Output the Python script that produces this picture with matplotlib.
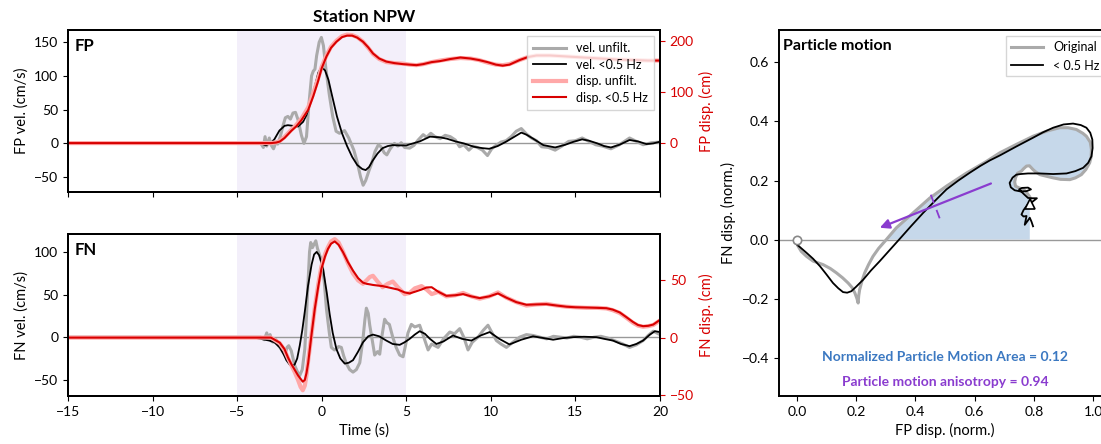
import numpy as np
import matplotlib
matplotlib.use("Agg")
import matplotlib.pyplot as plt

plt.rcParams['font.family'] = ['Lato', 'DejaVu Sans']
plt.rcParams['font.size'] = 10
plt.rcParams['axes.linewidth'] = 1.4

# ---- FP component ----
t_fp_vel_f = [-15, -5, -4, -3.6, -3.3, -3.0, -2.8, -2.5, -2.2, -2.0, -1.7, -1.4, -1.1, -0.9, -0.6, -0.4, -0.2, 0.0,
              0.2, 0.4, 0.6, 0.9, 1.2, 1.5, 1.8, 2.1, 2.4, 2.6, 2.8, 3.0, 3.3, 3.6, 3.9, 4.2, 4.6, 5.0, 5.4, 5.8,
              6.4, 7.0, 7.4, 7.9, 8.4, 9.0, 9.5, 9.9, 10.4, 10.9, 11.4, 11.8, 12.1, 12.5, 13.1, 13.8, 14.4, 14.9,
              15.4, 15.8, 16.3, 16.7, 17.1, 17.6, 18.2, 18.7, 19.2, 19.6, 20]
fp_vel_f = [0, 0, 0.5, 0, -3, 1, 6, 19, 26, 27, 26, 25, 32, 42, 65, 85, 105, 113,
            108, 94, 72, 40, 15, -4, -20, -32, -38, -39.5, -35, -26, -15, -7, -4, -2.5, -3, -3, 0, 3,
            10, 9, 7, 3, 0, -5, -7, -8, -4, 2.5, 10, 16, 13, 7, -2.5, -6, -2, 2.5,
            6, 4, 0, -4, -6, -2, 5, 3, -1, 0, 2.5]

t_fp_vel_u = [-15, -5, -3.6, -3.45, -3.35, -3.25, -3.1, -3.0, -2.85, -2.7, -2.6, -2.45, -2.3, -2.15, -2.0, -1.85,
              -1.7, -1.55, -1.4, -1.2, -1.05, -0.9, -0.75, -0.6, -0.5, -0.4, -0.3, -0.15, -0.02, 0.1, 0.25, 0.45,
              0.65, 0.85, 1.05, 1.35, 1.6, 1.9, 2.1, 2.3, 2.45, 2.6, 2.8, 2.95, 3.15, 3.35, 3.5, 3.7, 3.85, 4.05,
              4.3, 4.5, 4.7, 4.9, 5.2, 5.45, 5.7, 6.0, 6.2, 6.45, 6.7, 7.0, 7.3, 7.6, 7.9, 8.15, 8.4, 8.7, 8.95,
              9.2, 9.5, 9.8, 10.05, 10.3, 10.6, 10.9, 11.2, 11.5, 11.8, 12.1, 12.4, 12.7, 13.0, 13.4, 13.8, 14.2,
              14.6, 15.0, 15.4, 15.8, 16.2, 16.6, 17.1, 17.6, 18.2, 18.6, 19.0, 19.5, 20]
fp_vel_u = [0, 0, 0, -6, 10, -4, 8, -2, -8, 2, -1, 10, 25, 38, 40, 36,
            45, 46, 35, 12, 0, 10, 60, 100, 107, 110, 130, 150, 157, 145, 110, 72,
            40, 18, 15, 19, 8, -10, -28, -50, -62, -55, -40, -30, -12, -2, -5, -14, -17, -8,
            0, -4, 1, -6, -7, -3, 5, 13, 9, 15, 10, 7, 12, 10, 5, -5, -2, -10, -4,
            -6, -10, -18, -8, -3, 2, 4, 10, 18, 22, 14, 8, 4, -5, -6, -10, -4,
            3, 4, 8, 3, -2, -4, -8, -2, 8, 3, -2, 1, 2]

t_fp_disp = [-15, -5, -3, -2.7, -2.48, -2.2, -2.0, -1.8, -1.5, -1.2, -0.8, -0.5, -0.22, 0.0, 0.28, 0.55, 0.87,
             1.2, 1.5, 1.8, 2.1, 2.44, 2.75, 3.03, 3.4, 3.82, 4.3, 4.8, 5.2, 5.6, 6.0, 6.5, 7.0, 7.6, 8.2, 8.8,
             9.3, 9.8, 10.3, 10.7, 11.1, 11.7, 12.2, 12.7, 13.5, 14.5, 15.5, 16.5, 17.5, 18.5, 19.3, 20]
fp_disp_f = [0, 0, 0, 1, 3, 10, 17, 24, 33, 45, 65, 92, 121, 147, 170, 187, 199,
             208, 211, 211, 207, 199, 188, 176, 166, 160, 157, 155, 154, 153, 155, 159, 161, 165, 168, 166,
             163, 159, 154, 152, 154, 163, 169, 172, 172, 170, 168, 166, 164, 163, 162, 162]
fp_disp_u = [0, 0, 0, 1.5, 4, 12, 19, 26, 36, 48, 70, 98, 126, 150, 172, 189, 201,
             210, 213, 212, 208, 199, 187, 175, 165, 159, 157, 156, 154, 153, 155, 159, 162, 165, 167, 166,
             163, 158, 154, 153, 155, 163, 169, 172, 172, 170, 168, 166, 164, 163, 162, 162]

# ---- FN component ----
t_fn_vel_f = [-15, -5, -4, -3.6, -3.1, -2.8, -2.48, -2.25, -2.09, -1.9, -1.75, -1.6, -1.45, -1.3, -1.15, -1.0,
              -0.81, -0.6, -0.45, -0.3, -0.15, 0.08, 0.3, 0.47, 0.65, 0.87, 1.1, 1.36, 1.6, 1.85, 2.15, 2.44,
              2.75, 3.03, 3.4, 3.82, 4.2, 4.61, 4.9, 5.2, 5.5, 5.79, 6.1, 6.4, 6.78, 7.2, 7.76, 8.3, 8.85, 9.4,
              9.93, 10.5, 11.1, 11.8, 12.49, 13.1, 13.68, 14.3, 14.86, 15.5, 16.24, 16.7, 17.22, 17.7, 18.2,
              18.6, 19.0, 19.4, 19.7, 20]
fn_vel_f = [0, 0, -0.5, -2, -4, -6, -12, -20, -27, -32, -34, -32, -25, -10, 8, 30,
            60, 85, 97, 100, 96, 80, 52, 27, 5, -14, -25, -31, -30, -27, -17, -6,
            1, 3, 1, -4, -8, -9, -6, -2, 3, 7, 4, -2, -8, -5, 2, -2, -4, 2,
            6, -2, -8.5, -3, 1, -1, -3, -1, 0, 0.5, 0, -2, -4, -8, -10.5,
            -8, -4, 3, 7, 6]

t_fn_vel_u = [-15, -5, -3.6, -3.4, -3.25, -3.15, -3.05, -2.95, -2.85, -2.7, -2.55, -2.4, -2.19, -2.05, -1.95,
              -1.8, -1.6, -1.45, -1.3, -1.15, -1.0, -0.9, -0.81, -0.72, -0.65, -0.55, -0.45, -0.35, -0.25,
              -0.1, -0.02, 0.15, 0.28, 0.45, 0.57, 0.75, 0.87, 1.0, 1.16, 1.3, 1.46, 1.65, 1.85, 2.05, 2.25,
              2.44, 2.55, 2.64, 2.75, 2.84, 3.0, 3.13, 3.3, 3.43, 3.55, 3.72, 3.85, 4.0, 4.2, 4.4, 4.61, 4.81,
              4.95, 5.1, 5.3, 5.5, 5.79, 6.0, 6.29, 6.5, 6.88, 7.2, 7.57, 7.85, 8.16, 8.4, 8.65, 8.9, 9.24,
              9.55, 9.83, 10.1, 10.33, 10.6, 10.92, 11.3, 11.7, 12.1, 12.5, 12.9, 13.3, 13.7, 14.1, 14.5,
              14.9, 15.3, 15.7, 16.1, 16.5, 16.9, 17.3, 17.8, 18.2, 18.6, 19.0, 19.3, 19.6, 19.8, 20]
fn_vel_u = [0, 0, 0, -3, 5, -2, 3, -5, -6, -3, -10, -14, -21, -12, -10,
            -16, -33, -40, -45, -38, -14, 25, 64, 100, 111, 105, 109, 113, 104,
            95, 92, 65, 33, 5, -12, -15, -14, -11, -12, -22, -31, -38, -41, -38, -30,
            -2, 20, 34, 28, 14, -5, -21, -17, -20, 0, 21, 17, 15, 0, -12, -21, -23,
            -10, 5, 15, 12, 14, 2, -15, -8, -12, -2, 6, 4, 10, 0, -15, -6, 0,
            8, 14, 4, -4, -8, -12, -6, 0, 3, 2, 0, -2, 1, 0, -1,
            1, 0, -2, 0, 1, -1, -4, -8, -12, -9, -4, 2, 7, 5, 3]

t_fn_disp = [-15, -5, -3, -2.48, -2.2, -1.99, -1.8, -1.6, -1.4, -1.25, -1.12, -1.0, -0.9, -0.8, -0.6, -0.41,
             -0.2, -0.02, 0.2, 0.37, 0.55, 0.77, 1.0, 1.26, 1.55, 1.85, 2.15, 2.44, 2.65, 2.85, 3.03, 3.3, 3.6,
             3.9, 4.2, 4.5, 4.9, 5.2, 5.5, 5.9, 6.2, 6.5, 6.9, 7.37, 7.9, 8.36, 8.85, 9.34, 9.9, 10.42, 10.9,
             11.5, 12.1, 12.7, 13.28, 13.9, 14.47, 15.0, 15.65, 16.3, 16.83, 17.2, 17.62, 18.0, 18.4, 18.7,
             19.0, 19.3, 19.6, 20]
fn_disp_f = [0, 0, 0, -4.4, -10, -17.5, -23, -28, -33, -36, -38.5, -37, -31, -22, 3, 25,
             45, 60, 71, 77.5, 82, 84, 81, 74.6, 66, 58.5, 52, 48, 47, 46.5, 46, 45.5, 45,
             44, 43, 42, 39.5, 38.6, 40, 42, 43.8, 44, 40, 36.5, 37, 38, 36, 34.5, 36, 38.6, 35,
             31, 28.7, 29, 29.2, 28, 27, 26.5, 26.3, 26, 25.7, 24.5, 22, 18, 13.7, 11,
             10, 10.3, 11.4, 15.5]
fn_disp_u = [0, 0, 0, -5, -11, -18, -24, -30, -37, -43, -46, -42, -33, -20, 3, 26,
             47, 62, 73, 79, 84, 86, 83, 75, 65, 56, 50, 47, 50, 53, 54, 49, 44,
             47, 49, 44, 38, 39, 43, 45, 42, 38, 40, 36, 37, 39, 36, 34, 36, 39.5, 35,
             31, 28, 29, 29.5, 28, 27, 26.5, 26, 26, 25.5, 24, 21.5, 17.5, 13, 10.5,
             9.5, 10, 11, 15]

# ---- particle motion (normalised displacement) ----
pm_orig_x = [0, 0.003, 0.015, 0.033, 0.055, 0.089, 0.113, 0.134, 0.155, 0.173, 0.187, 0.196, 0.203, 0.207,
             0.209, 0.212, 0.22, 0.229, 0.242, 0.257, 0.276, 0.297, 0.336, 0.392, 0.449, 0.505, 0.572, 0.64,
             0.685, 0.74, 0.797, 0.845, 0.887, 0.915, 0.943, 0.965, 0.977, 0.99, 0.994, 0.993, 0.988, 0.975,
             0.96, 0.94, 0.921, 0.89, 0.865, 0.84, 0.82, 0.805, 0.797, 0.785, 0.775, 0.765, 0.758, 0.745,
             0.738, 0.735, 0.738, 0.75, 0.765, 0.775, 0.786, 0.79, 0.786]
pm_orig_y = [0, -0.02, -0.04, -0.057, -0.073, -0.085, -0.098, -0.113, -0.13, -0.147, -0.163, -0.181, -0.2,
             -0.215, -0.19, -0.17, -0.14, -0.113, -0.085, -0.057, -0.03, -0.006, 0.04, 0.09, 0.141, 0.181,
             0.225, 0.265, 0.294, 0.322, 0.35, 0.368, 0.379, 0.379, 0.373, 0.36, 0.35, 0.33, 0.305, 0.28,
             0.26, 0.237, 0.22, 0.209, 0.203, 0.204, 0.209, 0.215, 0.22, 0.23, 0.237, 0.25, 0.249, 0.24,
             0.232, 0.225, 0.21, 0.195, 0.181, 0.175, 0.17, 0.16, 0.145, 0.13, 0.119]

pm_filt_x = [-0.007, 0.01, 0.033, 0.055, 0.078, 0.1, 0.122, 0.14, 0.156, 0.17, 0.184, 0.2, 0.224, 0.25, 0.28,
             0.313, 0.347, 0.385, 0.426, 0.465, 0.505, 0.545, 0.583, 0.62, 0.651, 0.685, 0.74, 0.797, 0.83,
             0.865, 0.9, 0.932, 0.958, 0.977, 0.99, 0.997, 0.998, 0.994, 0.983, 0.966, 0.94, 0.91, 0.865,
             0.82, 0.78, 0.755, 0.741, 0.728, 0.718, 0.722, 0.735, 0.755, 0.775, 0.79, 0.78, 0.76, 0.75,
             0.765, 0.78, 0.795, 0.81, 0.795, 0.78, 0.765, 0.758, 0.765, 0.775, 0.772, 0.769, 0.78, 0.786,
             0.792, 0.797]
pm_filt_y = [-0.011, -0.025, -0.045, -0.065, -0.09, -0.118, -0.147, -0.165, -0.178, -0.18, -0.175, -0.16,
             -0.136, -0.105, -0.073, -0.036, 0.002, 0.045, 0.09, 0.13, 0.17, 0.2, 0.226, 0.25, 0.268, 0.285,
             0.315, 0.345, 0.363, 0.379, 0.39, 0.393, 0.388, 0.379, 0.362, 0.339, 0.31, 0.282, 0.26, 0.243,
             0.232, 0.224, 0.222, 0.224, 0.224, 0.222, 0.22, 0.21, 0.192, 0.177, 0.167, 0.163, 0.164, 0.17,
             0.176, 0.175, 0.17, 0.155, 0.141, 0.14, 0.14, 0.128, 0.12, 0.1, 0.085, 0.078, 0.08, 0.065,
             0.05, 0.065, 0.074, 0.06, 0.045]

npma = 0.12
anisotropy = 0.94
arrow_tail = (0.655, 0.19)
arrow_head = (0.28, 0.04)
perp_x = [0.452, 0.482]
perp_y = [0.152, 0.072]

GRAY = '#aaaaaa'
LRED = '#ffa8a8'
RED = '#d80000'
SHADE = '#f3effa'
PURPLE = '#8a3ccf'
BLUE = '#3b78c1'
FILL = '#c6d8ea'

W, H = 1101, 444
fig = plt.figure(figsize=(W / 100, H / 100), dpi=100)


def fpos(l, t, r, b):
    return [l / W, 1 - b / H, (r - l) / W, (b - t) / H]


def wave_panel(ax, tv_u, v_u, tv_f, v_f, td, d_u, d_f, comp, vlim, dlim, vticks, dticks):
    ax.axvspan(-5, 5, color=SHADE, zorder=0, lw=0)
    ax.axhline(0, color='#999999', lw=1.0, zorder=1)
    l1, = ax.plot(tv_u, v_u, color=GRAY, lw=2.2, label='vel. unfilt.', zorder=2)
    l2, = ax.plot(tv_f, v_f, color='k', lw=1.3, label='vel. <0.5 Hz', zorder=3)
    ax.set_xlim(-15, 20)
    ax.set_ylim(*vlim)
    ax.set_yticks(vticks)
    ax.set_ylabel(comp + ' vel. (cm/s)', fontsize=10.5)
    ax.text(0.012, 0.95, comp, transform=ax.transAxes, fontsize=12, fontweight='bold', va='top', ha='left')
    ax2 = ax.twinx()
    l3, = ax2.plot(td, d_u, color=LRED, lw=3.0, label='disp. unfilt.')
    l4, = ax2.plot(td, d_f, color=RED, lw=1.5, label='disp. <0.5 Hz')
    ax2.set_ylim(*dlim)
    ax2.set_yticks(dticks)
    ax2.tick_params(axis='y', colors=RED)
    ax2.spines['right'].set_color('k')
    ax2.set_ylabel(comp + ' disp. (cm)', color=RED, fontsize=10.5)
    return ax2, [l1, l2, l3, l4]


ax_fp = fig.add_axes(fpos(68, 30, 660, 192))
ax_fp2, handles = wave_panel(ax_fp, t_fp_vel_u, fp_vel_u, t_fp_vel_f, fp_vel_f, t_fp_disp, fp_disp_u, fp_disp_f,
                             'FP', (-72, 168), (-96, 222), [-50, 0, 50, 100, 150], [0, 100, 200])
ax_fp.tick_params(axis='x', labelbottom=False)
ax_fp.set_xticks([-15, -10, -5, 0, 5, 10, 15, 20])
ax_fp.set_title('Station NPW', fontsize=12.5, fontweight='bold', pad=6)
ax_fp2.legend(handles=handles, loc='upper right', fontsize=9, handlelength=2.6, borderpad=0.5,
              labelspacing=0.35, fancybox=False, edgecolor='#cccccc')

ax_fn = fig.add_axes(fpos(68, 234, 660, 396))
ax_fn2, _ = wave_panel(ax_fn, t_fn_vel_u, fn_vel_u, t_fn_vel_f, fn_vel_f, t_fn_disp, fn_disp_u, fn_disp_f,
                       'FN', (-69, 121), (-51, 90.5), [-50, 0, 50, 100], [-50, 0, 50])
ax_fn.set_xticks([-15, -10, -5, 0, 5, 10, 15, 20])
ax_fn.set_xlabel('Time (s)', fontsize=10.5)

# particle motion panel
ax_pm = fig.add_axes(fpos(779, 30, 1111, 396))
ax_pm.axhline(0, color='#999999', lw=1.0, zorder=1)

# shaded area under the original trace (above zero)
ox = np.array(pm_orig_x)
oy = np.array(pm_orig_y)
i0 = int(np.argmin(oy))
k = i0 + int(np.argmax(oy[i0:] >= 0))
xc = ox[k - 1] + (0 - oy[k - 1]) * (ox[k] - ox[k - 1]) / (oy[k] - oy[k - 1])
poly_x = np.concatenate([[xc], ox[k:], [ox[-1]]])
poly_y = np.concatenate([[0], oy[k:], [0]])
ax_pm.fill(poly_x, poly_y, color=FILL, lw=0, zorder=0.5)

ax_pm.plot(pm_orig_x, pm_orig_y, color=GRAY, lw=2.2, label='Original', zorder=2)
ax_pm.plot(pm_filt_x, pm_filt_y, color='k', lw=1.3, label='< 0.5 Hz', zorder=3)
ax_pm.plot([0], [0], 'o', ms=6, mfc='white', mec='#888888', mew=1.2, zorder=5)
ax_pm.plot([pm_orig_x[-1]], [pm_orig_y[-1]], '^', ms=7, mfc='white', mec='k', mew=1.2, zorder=5)

ax_pm.annotate('', xy=arrow_head, xytext=arrow_tail,
               arrowprops=dict(arrowstyle='-|>', color=PURPLE, lw=1.6, mutation_scale=14, shrinkA=0, shrinkB=0),
               zorder=4)
ax_pm.plot(perp_x, perp_y, color=PURPLE, lw=1.3, ls=(0, (5, 4)), zorder=6)

ax_pm.set_xlim(-0.06, 1.06)
ax_pm.set_ylim(-0.53, 0.71)
ax_pm.set_xticks([0.0, 0.2, 0.4, 0.6, 0.8, 1.0])
ax_pm.set_yticks([-0.4, -0.2, 0.0, 0.2, 0.4, 0.6])
ax_pm.set_xlabel('FP disp. (norm.)', fontsize=10.5)
ax_pm.set_ylabel('FN disp. (norm.)', fontsize=10.5)
ax_pm.text(0.012, 0.955, 'Particle motion', transform=ax_pm.transAxes, fontsize=11.5, fontweight='bold',
           va='center', ha='left')
ax_pm.text(0.5, 1 - (356.7 - 30) / 366, 'Normalized Particle Motion Area = %.2f' % npma,
           transform=ax_pm.transAxes, color=BLUE, fontsize=10, fontweight='bold', ha='center', va='center')
ax_pm.text(0.5, 1 - (381.7 - 30) / 366, 'Particle motion anisotropy = %.2f' % anisotropy,
           transform=ax_pm.transAxes, color=PURPLE, fontsize=10, fontweight='bold', ha='center', va='center')
ax_pm.legend(loc='upper right', fontsize=9, handlelength=2.6, fancybox=False, edgecolor='#cccccc')

fig.savefig('out.png', dpi=100)
